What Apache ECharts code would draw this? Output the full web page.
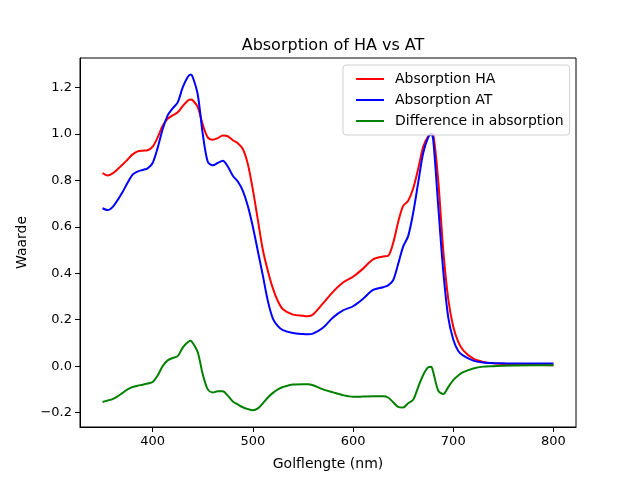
<!DOCTYPE html>
<html lang="nl">
<head>
    <meta charset="UTF-8">
    <title>Absorption of HA vs AT</title>
    <script src="https://cdn.jsdelivr.net/npm/echarts@6/dist/echarts.min.js"></script>
    <style>
        html, body { margin: 0; padding: 0; background: #fff; }
        #chart { width: 640px; height: 480px; }
    </style>
</head>
<body>
<div id="chart"></div>
<script>
    // golflengte (nm)
    var wavelengths = [350, 355, 360, 365, 370, 375, 380, 385, 390, 395,
        400, 405, 410, 415, 420, 425, 430, 435, 438, 440,
        445, 450, 455, 460, 465, 470, 475, 480, 485, 490,
        495, 500, 505, 510, 515, 520, 525, 530, 540, 550,
        555, 560, 570, 580, 590, 600, 610, 620, 630, 635,
        640, 645, 650, 655, 660, 665, 670, 675, 678, 680,
        685, 690, 695, 700, 705, 710, 720, 730, 740, 750,
        760, 780, 800];
    var absHA = [0.832, 0.821, 0.830, 0.848, 0.868, 0.890, 0.912, 0.925, 0.928, 0.930,
        0.945, 0.985, 1.035, 1.065, 1.080, 1.093, 1.120, 1.143, 1.148, 1.145,
        1.115, 1.040, 0.985, 0.975, 0.982, 0.993, 0.990, 0.973, 0.960, 0.935,
        0.870, 0.760, 0.630, 0.500, 0.410, 0.335, 0.280, 0.245, 0.222, 0.217,
        0.215, 0.222, 0.270, 0.320, 0.360, 0.385, 0.420, 0.460, 0.472, 0.475,
        0.530, 0.620, 0.690, 0.712, 0.765, 0.850, 0.945, 0.990, 1.000, 0.998,
        0.800, 0.500, 0.290, 0.170, 0.105, 0.068, 0.032, 0.018, 0.012, 0.009,
        0.007, 0.005, 0.004];
    var absAT = [0.680, 0.672, 0.685, 0.715, 0.750, 0.790, 0.825, 0.838, 0.845, 0.852,
        0.875, 0.940, 1.020, 1.080, 1.110, 1.136, 1.200, 1.245, 1.256, 1.245,
        1.170, 1.000, 0.880, 0.865, 0.875, 0.885, 0.860, 0.820, 0.795, 0.755,
        0.690, 0.600, 0.495, 0.390, 0.280, 0.205, 0.172, 0.155, 0.143, 0.138,
        0.137, 0.140, 0.165, 0.210, 0.240, 0.258, 0.290, 0.328, 0.340, 0.348,
        0.370, 0.440, 0.515, 0.560, 0.660, 0.790, 0.918, 0.985, 1.000, 0.975,
        0.690, 0.410, 0.210, 0.115, 0.065, 0.045, 0.024, 0.016, 0.013, 0.012,
        0.011, 0.011, 0.011];
    var diffAbs = [-0.154, -0.148, -0.142, -0.130, -0.115, -0.100, -0.090, -0.084, -0.080, -0.075,
        -0.068, -0.040, 0.000, 0.025, 0.035, 0.043, 0.080, 0.103, 0.109, 0.100,
        0.060, -0.035, -0.100, -0.113, -0.108, -0.108, -0.127, -0.152, -0.165, -0.177,
        -0.185, -0.190, -0.182, -0.160, -0.135, -0.115, -0.100, -0.090, -0.079, -0.078,
        -0.078, -0.082, -0.100, -0.113, -0.125, -0.132, -0.131, -0.130, -0.130, -0.135,
        -0.155, -0.175, -0.178, -0.160, -0.145, -0.090, -0.038, -0.005, -0.003, -0.025,
        -0.105, -0.120, -0.090, -0.060, -0.040, -0.026, -0.010, -0.002, 0.000, 0.002,
        0.003, 0.004, 0.004];
    var xTicks = [400, 500, 600, 700, 800];
    var yTicks = [-0.2, 0.0, 0.2, 0.4, 0.6, 0.8, 1.0, 1.2];

    function pairs(ys) {
        var out = [];
        for (var i = 0; i < wavelengths.length; i++) {
            out.push([wavelengths[i], ys[i]]);
        }
        return out;
    }

    var font = 'DejaVu Sans';
    var chart = echarts.init(document.getElementById('chart'));

    function lineSeries(name, ys, color) {
        return {
            name: name,
            type: 'line',
            data: pairs(ys),
            showSymbol: false,
            symbol: 'none',
            smooth: 0.3,
            lineStyle: { color: color, width: 2 },
            itemStyle: { color: color }
        };
    }

    var option = {
        animation: false,
        backgroundColor: '#fff',
        textStyle: { fontFamily: font },
        title: {
            text: 'Absorption of HA vs AT',
            left: 328,
            textAlign: 'center',
            top: 33,
            textStyle: { fontFamily: font, fontSize: 16, fontWeight: 'normal', color: '#000' }
        },
        legend: {
            orient: 'vertical',
            left: 343,
            top: 65,
            padding: [6, 6, 6, 13],
            icon: 'rect',
            itemWidth: 28,
            itemHeight: 2,
            itemGap: 5,
            borderColor: '#d0d0d0',
            borderWidth: 1,
            borderRadius: 3,
            backgroundColor: 'rgba(255,255,255,0.8)',
            textStyle: { fontFamily: font, fontSize: 14, color: '#000', padding: [0, 0, 0, 6], lineHeight: 16 },
            data: ['Absorption HA', 'Absorption AT', 'Difference in absorption']
        },
        grid: {
            left: 80,
            right: 64,
            top: 58,
            bottom: 53,
            show: true,
            borderColor: '#000',
            borderWidth: 1,
            backgroundColor: 'transparent'
        },
        xAxis: {
            type: 'value',
            min: 327.5,
            max: 822.5,
            name: 'Golflengte (nm)',
            nameLocation: 'middle',
            nameGap: 30,
            nameTextStyle: { fontFamily: font, fontSize: 14, color: '#000' },
            axisLine: { show: true, onZero: false, lineStyle: { color: '#000', width: 1 } },
            axisTick: { show: true, length: 5, customValues: xTicks, lineStyle: { color: '#000' } },
            axisLabel: {
                customValues: xTicks,
                margin: 8,
                fontFamily: font,
                fontSize: 13,
                color: '#000'
            },
            splitLine: { show: false }
        },
        yAxis: {
            type: 'value',
            min: -0.262,
            max: 1.327,
            name: 'Waarde',
            nameLocation: 'middle',
            nameGap: 51,
            nameTextStyle: { fontFamily: font, fontSize: 14, color: '#000' },
            axisLine: { show: true, onZero: false, lineStyle: { color: '#000', width: 1 } },
            axisTick: { show: true, length: 5, customValues: yTicks, lineStyle: { color: '#000' } },
            axisLabel: {
                customValues: yTicks,
                margin: 8,
                fontFamily: font,
                fontSize: 13,
                color: '#000',
                formatter: function (v) {
                    return v.toFixed(1).replace('-', '\u2212');
                }
            },
            splitLine: { show: false }
        },
        series: [
            lineSeries('Absorption HA', absHA, '#ff0000'),
            lineSeries('Absorption AT', absAT, '#0000ff'),
            lineSeries('Difference in absorption', diffAbs, '#008000')
        ]
    };
    chart.setOption(option);
</script>
</body>
</html>
